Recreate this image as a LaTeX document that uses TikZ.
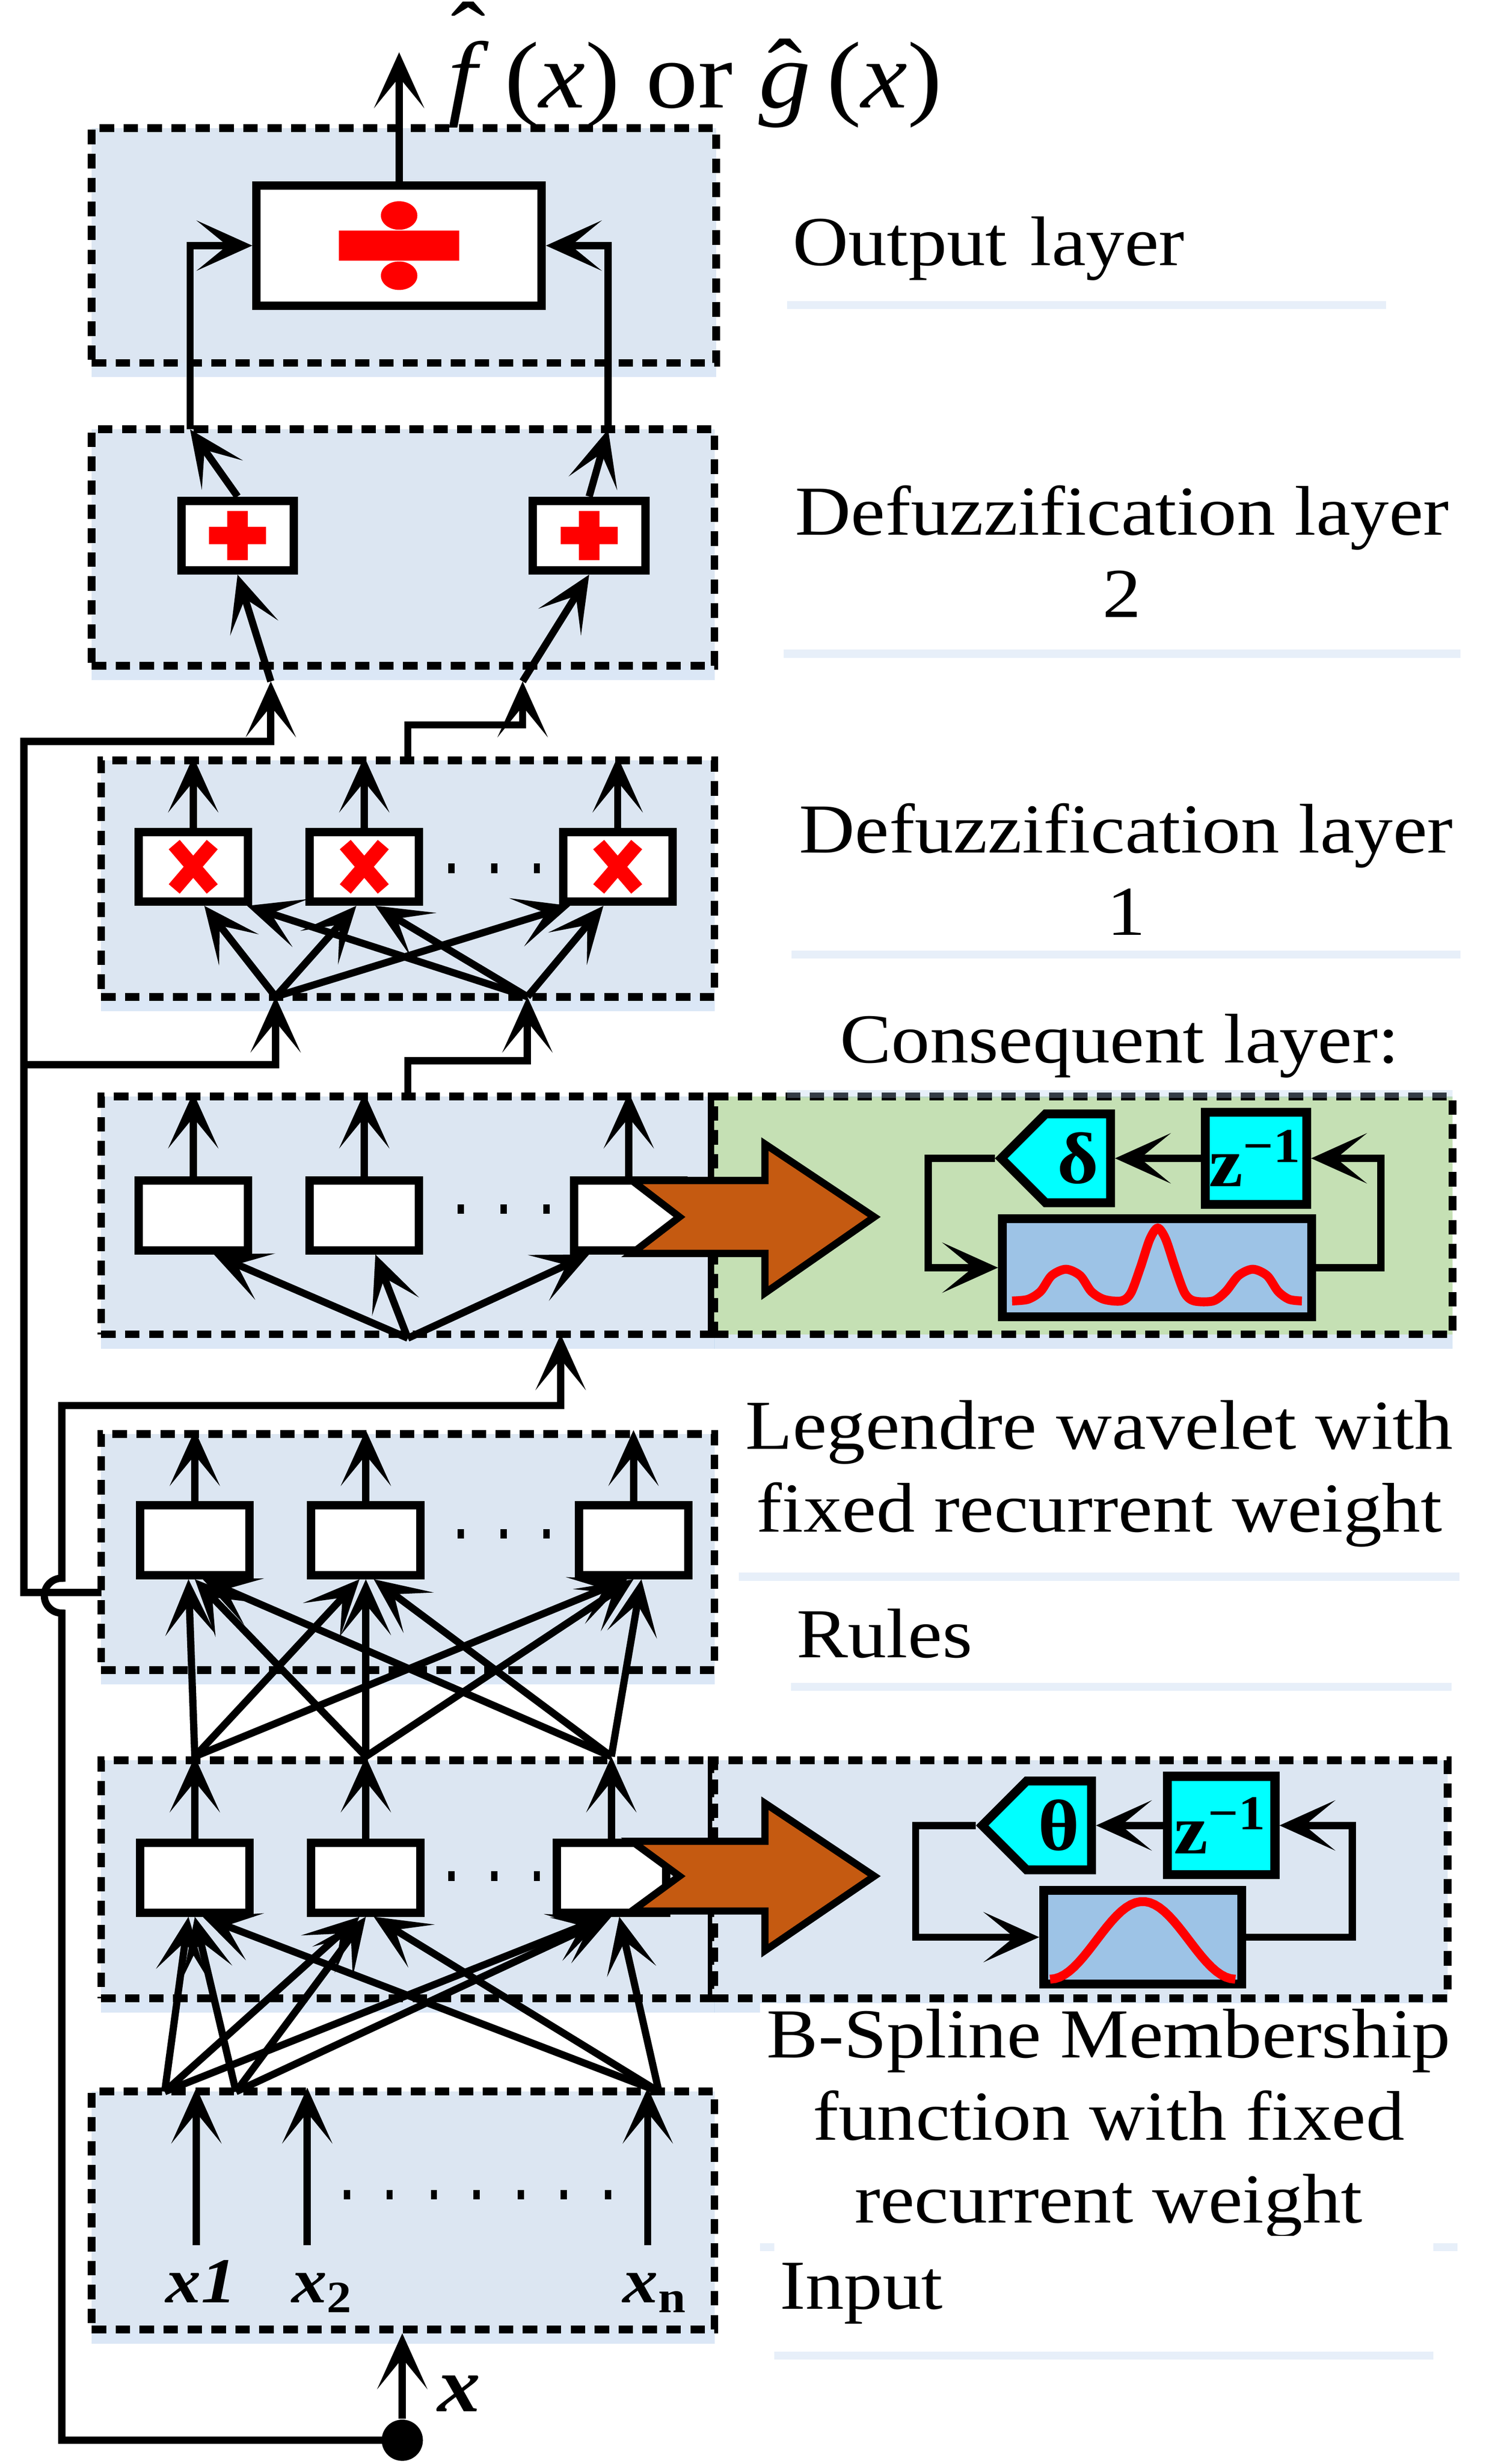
\documentclass[tikz,border=0pt]{standalone}
\usepackage{fontspec}
\setmainfont[FakeStretch=1.1]{Liberation Serif}
\usetikzlibrary{arrows.meta,shapes.symbols,shadows}
\definecolor{layerblue}{RGB}{220,230,242}
\definecolor{wavegreen}{RGB}{197,224,180}
\definecolor{boxblue}{RGB}{157,195,230}
\definecolor{arrbrown}{RGB}{197,90,17}
\definecolor{shadeblue}{RGB}{175,202,234}
\definecolor{aqua}{RGB}{0,255,255}
\newcommand\hatted[2]{\ooalign{#1\cr\hidewidth\raisebox{#2}{ˆ}\hidewidth\cr}}

\begin{document}
\begin{tikzpicture}[x=0.01cm,y=-0.01cm,
    wire/.style={line width=1.3pt},
    arr/.style={wire,-{Stealth[length=10pt,width=9pt,inset=5.5pt]}},
    glow/.style={drop shadow={shadow xshift=0pt,shadow yshift=-0.09cm,fill=shadeblue,opacity=0.45}},
    layer/.style={draw,line width=1.4pt,dash pattern=on 2.6pt off 1.7pt,fill=layerblue,inner sep=0pt,glow},
    blk/.style={draw,line width=1.5pt,fill=white,inner sep=0pt,minimum width=0.69cm,minimum height=0.44cm},
    lbl/.style={fill=white,inner sep=1pt,font=\fontsize{12.6}{14.8}\selectfont,
        drop shadow={shadow xshift=0pt,shadow yshift=-0.05cm,fill=shadeblue,opacity=0.3}},
    sig/.style={signal,signal to=west,draw,line width=1.6pt,fill=aqua,inner sep=1pt,minimum width=0.69cm,minimum height=0.56cm,font=\fontsize{13}{15}\selectfont\bfseries},
    zbox/.style={draw,line width=1.6pt,fill=aqua,inner sep=0pt,font=\fontsize{12.5}{15}\selectfont\bfseries},
    fnbox/.style={draw,line width=1.6pt,fill=boxblue,inner sep=0pt},
    barrow/.style={draw,line width=1.3pt,fill=arrbrown},
    xl/.style={inner sep=0pt,font=\fontsize{11.5}{13}\selectfont\bfseries\itshape}]
        \useasboundingbox (0,0) rectangle (940,1555);

        \node[layer,minimum width=3.94cm,minimum height=1.48cm] (Lout) at (255,155) {};
        \node[layer,minimum width=3.93cm,minimum height=1.49cm] (Ld2) at (254.5,345.5) {};
        \node[layer,minimum width=3.87cm,minimum height=1.49cm] (Ld1) at (257.5,554.5) {};
        \node[layer,minimum width=3.87cm,minimum height=1.50cm] (Lcon) at (257.5,767) {};
        \node[layer,fill=wavegreen,minimum width=4.66cm,minimum height=1.50cm] (Lwav) at (684,767) {};
        \node[layer,minimum width=3.87cm,minimum height=1.49cm] (Lrul) at (257.5,979.5) {};
        \node[layer,minimum width=3.87cm,minimum height=1.50cm] (Lmem) at (257.5,1186) {};
        \node[layer,minimum width=4.63cm,minimum height=1.50cm] (Lbsp) at (682.5,1186) {};
        \node[layer,minimum width=3.93cm,minimum height=1.50cm] (Lin) at (254.5,1395) {};
        \draw[line width=0.8pt] (Lwav.north west) -- (Lwav.south west);
        \draw[line width=0.8pt] (Lbsp.north west) -- (Lbsp.south west);

        \node[lbl,text width=3.71cm,minimum height=0.66cm] (tout) at (686,157) {Output layer};
        \node[lbl,align=center,minimum width=4.27cm,minimum height=1.24cm] (td2) at (708.5,348) {Defuzzification layer\\2};
        \node[lbl,align=center,minimum width=4.22cm,minimum height=1.03cm] (td1) at (711,548.5) {Defuzzification layer\\1};
        \node[lbl,align=center,minimum width=4.20cm,minimum height=0.56cm] (tcon) at (707,660) {Consequent layer:};
        \node[lbl,align=center,minimum width=4.55cm,minimum height=1.25cm] (twav) at (694,930) {Legendre wavelet with\\fixed recurrent weight};
        \node[lbl,text width=4.10cm,minimum height=0.62cm] (trul) at (708,1031) {Rules};
        \node[lbl,align=center,minimum width=4.40cm,minimum height=1.45cm] (tbsp) at (700,1340) {B-Spline Membership\\function with fixed\\recurrent weight};
        \node[lbl,text width=4.09cm,minimum height=0.73cm] (tin) at (697,1447.5) {Input};
        \node[anchor=base west,inner sep=0pt,font=\fontsize{17}{20}\selectfont] (ttl) at (282,68)
            {\hatted{\textit{f}}{0.42em}\,(\textit{x}) or \hatted{\textit{g}}{0.03em}\,(\textit{x})};

        \node[blk,minimum width=1.80cm,minimum height=0.76cm] (o) at (252,155) {};
        \node[blk,minimum width=0.71cm] (s1) at (150,338) {};
        \node[blk,minimum width=0.71cm] (s2) at (372,338) {};
        \foreach \n/\x in {1/122,2/230,3/390} \node[blk] (p\n) at (\x,547) {};
        \foreach \n/\x in {1/122,2/230,3/397} \node[blk] (c\n) at (\x,767) {};
        \foreach \n/\x in {1/123,2/231,3/400} \node[blk] (r\n) at (\x,972) {};
        \foreach \n/\x in {1/123,2/231,3/386} \node[blk] (m\n) at (\x,1185) {};

        \fill[red] (o) +(-38,-9.5) rectangle +(38,9.5)
            (o) +(0,-19) ellipse[x radius=0.115cm,y radius=0.09cm]
            (o) +(0,19) ellipse[x radius=0.115cm,y radius=0.09cm];
        \foreach \s in {s1,s2}
            \fill[red] (\s) +(-18,-5.5) rectangle +(18,5.5) (\s) +(-6.5,-15.5) rectangle +(6.5,15.5);
        \foreach \p in {p1,p2,p3}
            \draw[red,line width=2.6pt] (\p) +(-12,-14) -- +(12,14) (\p) +(-12,14) -- +(12,-14);

        \foreach \x in {285,312,339} \fill (\x-2,545) rectangle (\x+2,551);
        \foreach \x in {291,318,345} \fill (\x-2,760) rectangle (\x+2,766);
        \foreach \x in {291,318,345} \fill (\x-2,965) rectangle (\x+2,971);
        \foreach \x in {285,312,339} \fill (\x-2,1181) rectangle (\x+2,1187);
        \foreach \x in {219,246,274,301,329,356,384} \fill (\x-2,1382) rectangle (\x+2,1388);

        \node[xl,anchor=base] (lx1) at (127,1453) {x1};
        \node[xl,anchor=base] (lx2) at (204,1453) {x\textsubscript{\upshape 2}};
        \node[xl,anchor=base] (lxn) at (414,1453) {x\textsubscript{\upshape n}};
        \node[xl,anchor=base,font=\fontsize{14}{16}\selectfont\bfseries\itshape] (lx) at (290,1522) {x};
        \node[circle,fill,inner sep=0pt,minimum size=0.26cm] (xd) at (254,1540) {};

        \coordinate (fout) at (252,33);
        \coordinate (d2l) at (120,271);
        \coordinate (d2r) at (384,271);
        \coordinate (d2a) at (171,430);
        \coordinate (d2b) at (330,430);
        \coordinate (d1a) at (174,629);
        \coordinate (d1b) at (333,629);
        \coordinate (fb1) at (15,672);
        \coordinate (rfb) at (64,1005);
        \coordinate (cb) at (354,842);
        \coordinate (t1) at (104,1320);
        \coordinate (t2) at (149,1320);
        \coordinate (t3) at (416,1320);
        \coordinate (a1) at (124,1417);
        \coordinate (a2) at (194,1417);
        \coordinate (a3) at (409,1417);

        \draw[arr] (o.north) -- (fout);
        \draw[arr] (s1.north) -- (d2l);
        \draw[arr] (s2.north) -- (d2r);
        \draw[arr] (d2l) |- (o.west);
        \draw[arr] (d2r) |- (o.east);
        \draw[arr] (d2a) -- (s1.south);
        \draw[arr] (d2b) -- (s2.south);
        \draw[arr] (rfb) -| (15,468) -| (d2a);
        \draw[arr] (fb1) -| (d1a);
        \draw[arr] (Ld1.north) -- ++(0,-20) -| (d2b);
        \draw[arr] (Lcon.north) -- ++(0,-20) -| (d1b);
        \draw[arr] (xd.center) -| (39,1018) arc[start angle=-90,end angle=-270,radius=0.11cm] -- (39,887) -| (cb);
        \draw[arr] (xd) -- (xd |- Lin.south);

        \foreach \b in {p1,p2,p3} \draw[arr] (\b.north) -- (\b |- Ld1.north);
        \foreach \b in {c1,c2,c3} \draw[arr] (\b.north) -- (\b |- Lcon.north);
        \foreach \b in {r1,r2,r3} \draw[arr] (\b.north) -- (\b |- Lrul.north);
        \foreach \b in {m1,m2,m3} \draw[arr] (\b.north) -- (\b |- Lmem.north);
        \foreach \s/\p/\o in {d1a/p1/0.07,d1a/p2/-0.05,d1a/p3/-0.30,d1b/p1/0.34,d1b/p2/0.07,d1b/p3/-0.09}
            \draw[arr] (\s) -- ([xshift=\o cm]\p.south);
        \foreach \c/\o in {c1/0.13,c2/0.07,c3/-0.25}
            \draw[arr] (Lcon.south) -- ([xshift=\o cm]\c.south);
        \foreach \t/\o in {1/-0.04,2/0,3/0.05}
            \foreach \r in {1,2,3}
                \draw[arr] (m\t |- Lmem.north) -- ([xshift=\o cm]r\r.south);
        \foreach \t/\o in {1/-0.04,2/0,3/0.05}
            \foreach \m in {1,2,3}
                \draw[arr] (t\t) -- ([xshift=\o cm]m\m.south);
        \foreach \i in {1,2,3} \draw[arr] (a\i) -- (a\i |- Lin.north);

        \filldraw[barrow] (399,745) -- (483,745) -- (483,722) -- (552,768) -- (483,816) -- (483,791) -- (399,791) -- (429,768) -- cycle;
        \filldraw[barrow] (399,1162) -- (483,1162) -- (483,1138) -- (552,1184) -- (483,1231) -- (483,1206) -- (399,1206) -- (429,1184) -- cycle;

        \node[sig,anchor=east] (dl) at (704,731) {δ};
        \node[zbox,minimum width=0.64cm,minimum height=0.58cm] (z1) at (793,731) {z\textsuperscript{−1}};
        \node[fnbox,minimum width=1.95cm,minimum height=0.62cm] (wv) at (730.5,800) {};
        \draw[red,line width=1.6pt] plot[smooth,tension=0.5] coordinates {(639,821) (649,820) (657,815) (664,805) (673,801) (682,805) (689,815) (697,820) (708,821) (714,816) (720,800) (726,782) (731,775) (736,782) (742,800) (748,816) (754,821) (766,821) (774,815) (782,805) (791,801) (800,805) (807,815) (814,820) (822,821)};
        \draw[arr] (wv.east) -- ++(41,0) |- (z1.east);
        \draw[arr] (z1.west) -- (dl.east);
        \draw[arr] (dl.west) -- ++(-42,0) |- (wv.west);

        \node[sig,anchor=east] (th) at (692,1152) {θ};
        \node[zbox,minimum width=0.68cm,minimum height=0.62cm] (z2) at (771,1152) {z\textsuperscript{−1}};
        \node[fnbox,minimum width=1.25cm,minimum height=0.59cm] (bs) at (721.5,1222.5) {};
        \draw[red,line width=1.6pt] plot[domain=0:180,samples=40] ({663+\x*0.65},{1249-49*sin(\x)*sin(\x)});
        \draw[arr] (bs.east) -- ++(67,0) |- (z2.east);
        \draw[arr] (z2.west) -- (th.east);
        \draw[arr] (th.west) -- ++(-38,0) |- (bs.west);
    \end{tikzpicture}
\end{document}
